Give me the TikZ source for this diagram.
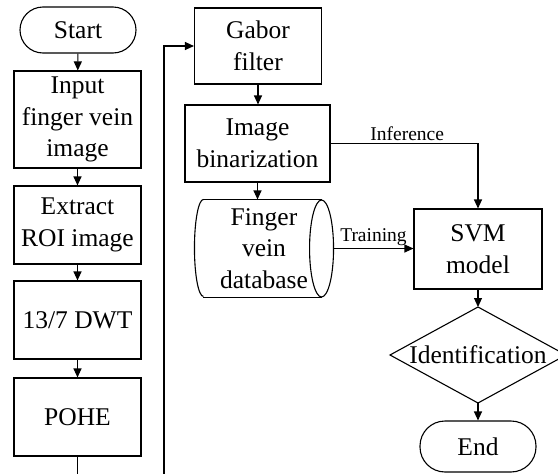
\documentclass[tikz,border=0pt]{standalone}
\usepackage{fontspec}
\setmainfont{Liberation Serif}
\usetikzlibrary{arrows.meta,calc}
\begin{document}
\begin{tikzpicture}[x=1pt,y=-1pt,
  line width=1.1pt,
  txt/.style={font=\fontsize{25.5}{31.5}\selectfont, align=center, inner sep=0pt},
  lbl/.style={font=\fontsize{19.5}{22}\selectfont, inner sep=2pt},
  box/.style={txt, draw, rectangle},
  term/.style={txt, draw, rectangle, rounded corners=23pt},
  arr/.style={-{Triangle[length=9pt,width=8pt]}}]
\useasboundingbox (0,0) rectangle (558,474);
% left column
\node[term, minimum width=116pt, minimum height=46pt] (start) at (78,30) {Start};
\node[box, minimum width=127pt, minimum height=97pt] (input) at (77.5,119.5) {Input\\finger vein\\image};
\node[box, minimum width=127pt, minimum height=78pt] (extract) at (77.5,225) {Extract\\ROI image};
\node[box, minimum width=127pt, minimum height=78pt] (dwt) at (77.5,320) {13/7 DWT};
\node[box, minimum width=127pt, minimum height=78pt] (pohe) at (77.5,417) {POHE};
% middle column
\node[box, minimum width=127pt, minimum height=76pt] (gabor) at (258,46) {Gabor\\filter};
\node[box, minimum width=145pt, minimum height=77pt] (bin) at (257.5,143.5) {Image\\binarization};
\node[txt, minimum width=138pt, minimum height=97pt] (db) at (264,248.5) {Finger\\vein\\database};
\draw ($(db.north west)+(9,0)$) -- ($(db.north east)+(-12,0)$);
\draw ($(db.south west)+(9,0)$) -- ($(db.south east)+(-12,0)$);
\draw ($(db.north west)+(9,0)$) arc[start angle=90, end angle=270, x radius=9pt, y radius=48.5pt];
\draw ($(db.east)+(-12,0)$) ellipse[x radius=12pt, y radius=48.5pt];
% right column
\node[box, minimum width=128pt, minimum height=80pt] (svm) at (478,249) {SVM\\model};
\node[txt] (ident) at (478,355) {Identification};
\coordinate (idT) at (478,307);
\coordinate (idR) at (566,355);
\coordinate (idB) at (478,403);
\coordinate (idL) at (390,355);
\draw (idT) -- (idR) -- (idB) -- (idL) -- cycle;
\node[term, minimum width=116pt, minimum height=51pt, rounded corners=25pt] (end) at (478,446.5) {End};
% connectors
\draw[arr] (start) -- (input);
\draw[arr] (input) -- (extract);
\draw[arr] (extract) -- (dwt);
\draw[arr] (dwt) -- (pohe);
\coordinate (lp) at (164,495);
\draw[arr] (pohe.south) |- (lp) |- (gabor.west);
\draw[arr] (gabor.south) -- (gabor.south |- bin.north);
\draw[arr] (bin.south) -- (bin.south |- db.north);
\draw[arr] (bin.east) -| (svm.north) node[lbl, pos=0.26, above] {Inference};
\draw[arr] (db.east) -- (db.east -| svm.west) node[lbl, midway, above] {Training};
\draw[arr] (svm.south) -- (idT);
\draw[arr] (idB) -- (end.north);
\end{tikzpicture}
\end{document}
